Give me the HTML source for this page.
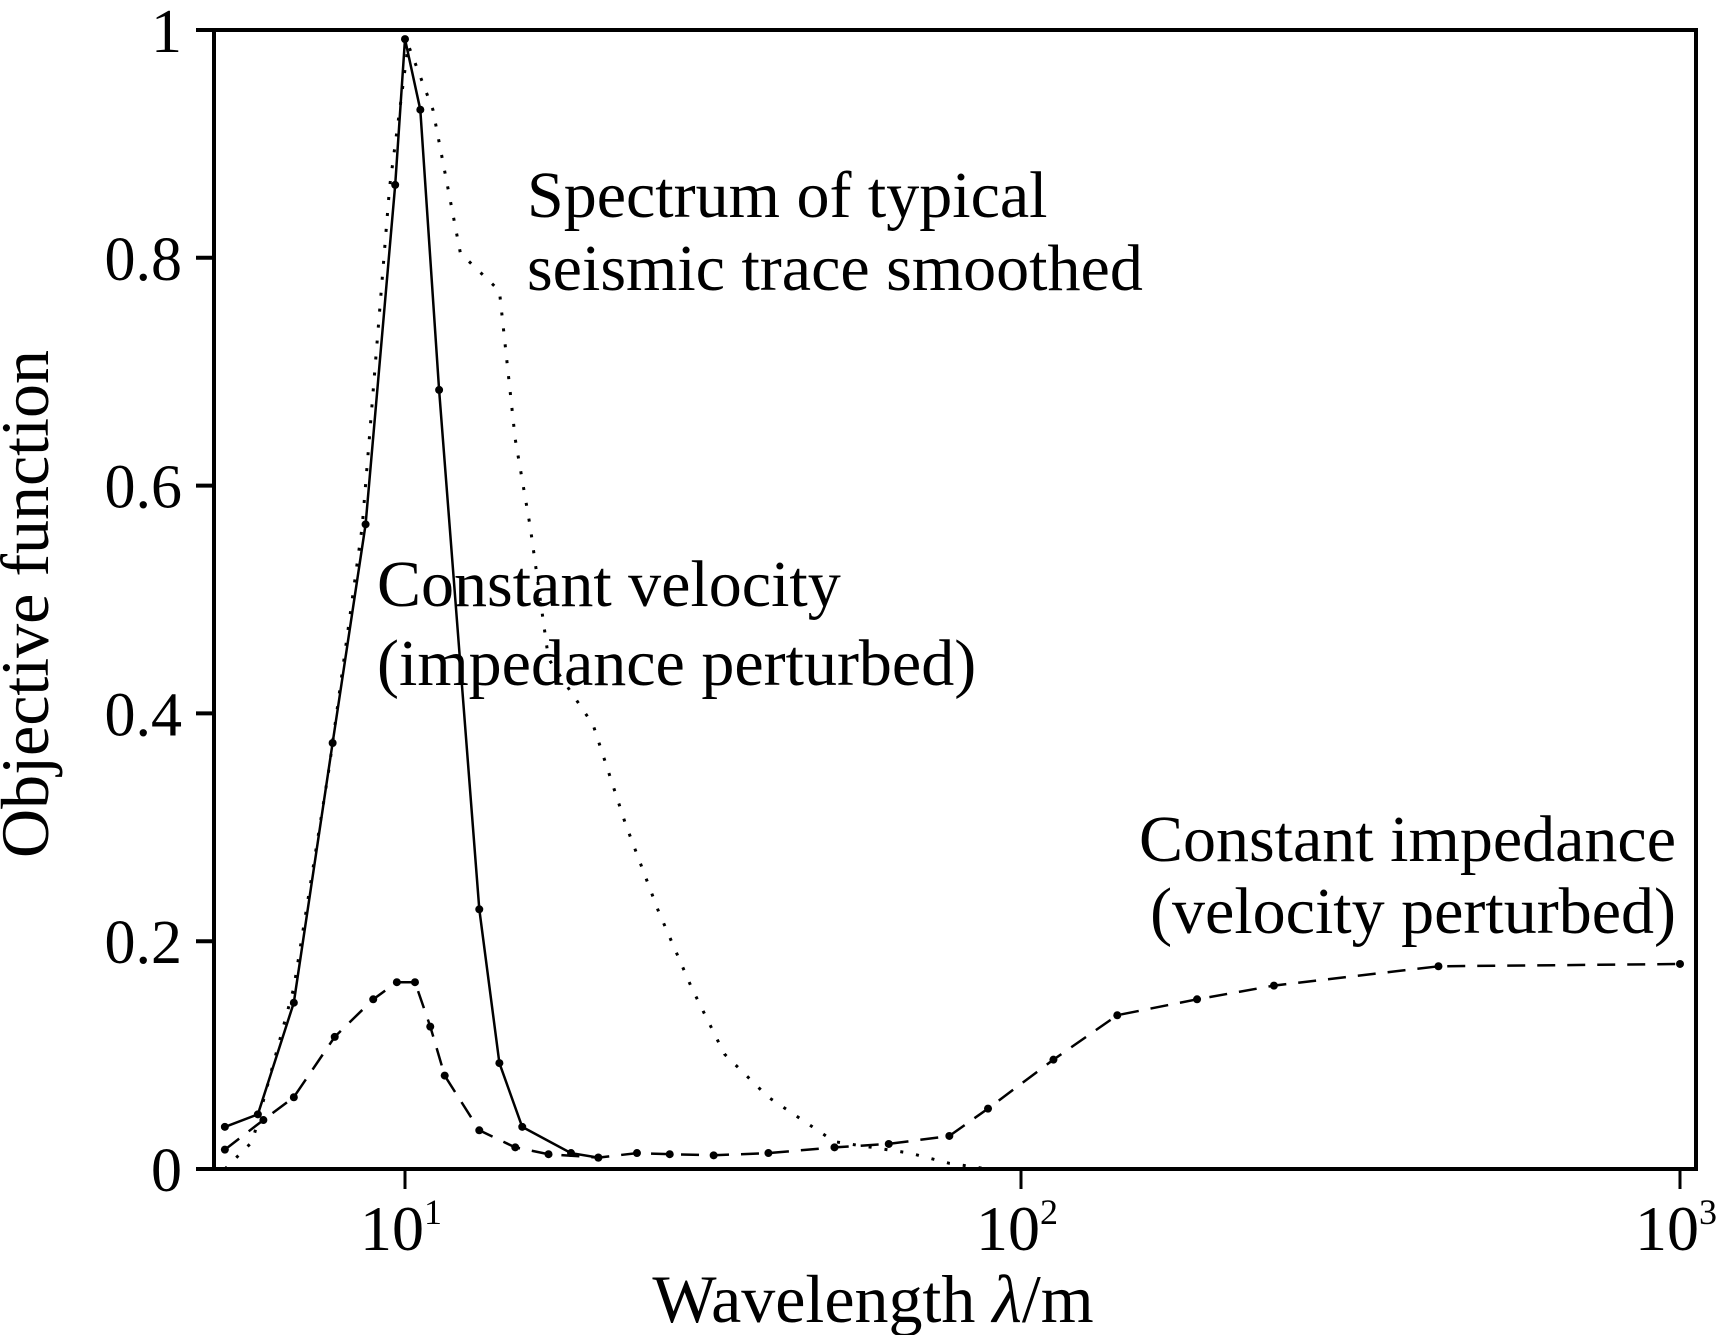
<!DOCTYPE html>
<html><head><meta charset="utf-8"><style>
body{margin:0;background:#fff}
svg{display:block}
text{font-family:"Liberation Serif",serif;fill:#000}
</style></head><body>
<svg width="1718" height="1335" viewBox="0 0 1718 1335">
<g id="g"></g>
</svg>
<script>
const solidX=[5.1,5.77,6.6,7.63,8.63,9.64,10,10.59,11.36,13.2,14.23,15.5,18.6,20.6];
const solidY=[0.037,0.048,0.146,0.374,0.566,0.864,0.992,0.93,0.684,0.228,0.093,0.037,0.014,0.01];
const dotX=[5.1,5.65,6.6,7.53,8.52,9.44,10.12,11.1,12.3,14.23,15.1,15.97,17.1,20.2,22.8,25.8,29.2,33,38.9,49.8,66,76.5,88.4];
const dotY=[0,0.024,0.159,0.352,0.564,0.862,0.987,0.93,0.804,0.771,0.641,0.564,0.448,0.39,0.303,0.226,0.159,0.101,0.063,0.024,0.014,0.005,0];
const dashX=[5.1,5.89,6.6,7.69,8.88,9.7,10.38,10.99,11.6,13.2,15.1,17.1,20.6,23.8,26.9,31.7,38.9,49.8,61,76.5,88.4,112,140,185,242,430,1000];
const dashY=[0.017,0.043,0.063,0.116,0.149,0.164,0.164,0.125,0.082,0.034,0.019,0.013,0.01,0.014,0.013,0.012,0.014,0.019,0.022,0.029,0.053,0.096,0.135,0.149,0.161,0.178,0.18];
const yTicks=[0,0.2,0.4,0.6,0.8,1];
const yTickLabels=["0","0.2","0.4","0.6","0.8","1"];
const xTicks=[10,100,1000];
const xTickExp=["1","2","3"];
const L=214,R=1696,T=30,B=1169;
function sx(v){const l=Math.log10(v);
  if(l<=2)return 405+(l-1)*616;
  return 1021+(l-2)*659;}
function sy(v){return B-v*(B-T);}
const g=document.getElementById('g');const NS="http://www.w3.org/2000/svg";
function mk(t,a,txt){const e=document.createElementNS(NS,t);for(const k in a)e.setAttribute(k,a[k]);if(txt!==undefined)e.textContent=txt;g.appendChild(e);return e;}
let e=mk('rect',{x:L,y:T,width:R-L,height:B-T,fill:'none',stroke:'#000','stroke-width':4});


yTicks.forEach((v,i)=>{
 let t=mk('line',{x1:L-18,x2:L,y1:sy(v),y2:sy(v),stroke:'#000','stroke-width':4});
 
 
 let lb=mk('text',{x:182,y:sy(v)+22,'font-size':62,'text-anchor':'end'},yTickLabels[i]);
 
 
});
xTicks.forEach((v,i)=>{
 let t=mk('line',{x1:sx(v),x2:sx(v),y1:B,y2:B+20,stroke:'#000','stroke-width':3});
 
 
 let lb=mk('text',{x:sx(v)-4,y:1250,'font-size':64,'text-anchor':'middle'});
 lb.innerHTML='10<tspan dy="-26" font-size="36">'+xTickExp[i]+'</tspan>';
 
 
});
function path(xs,ys){return xs.map((x,i)=>(i?'L':'M')+sx(x).toFixed(1)+' '+sy(ys[i]).toFixed(1)).join(' ');}
let p=mk('path',{d:path(dotX,dotY),fill:'none',stroke:'#000','stroke-width':3,'stroke-dasharray':'3 13'});


p=mk('path',{d:path(solidX,solidY),fill:'none',stroke:'#000','stroke-width':2.5});


p=mk('path',{d:path(dashX,dashY),fill:'none',stroke:'#000','stroke-width':2.5,'stroke-dasharray':'18 12'});


solidX.forEach((x,i)=>{let c=mk('circle',{cx:sx(x),cy:sy(solidY[i]),r:4,fill:'#000'});
 
 });
dashX.forEach((x,i)=>{let c=mk('circle',{cx:sx(x),cy:sy(dashY[i]),r:4,fill:'#000'});
 
 });
const labels=[["Spectrum of typical",527,217,'start','label-spectrum'],["seismic trace smoothed",527,290,'start','label-spectrum-2'],
["Constant velocity",377,606,'start','label-constant-velocity'],["(impedance perturbed)",377,685,'start','label-constant-velocity-2'],
["Constant impedance",1676,861,'end','label-constant-impedance'],["(velocity perturbed)",1676,933,'end','label-constant-impedance-2']];
labels.forEach(a=>{let t=mk('text',{x:a[1],y:a[2],'font-size':66,'text-anchor':a[3]},a[0]);
 
 });
let xt=mk('text',{x:873,y:1322,'font-size':68,'text-anchor':'middle'});
xt.innerHTML='Wavelength <tspan font-style="italic">λ</tspan>/m';


let yt=mk('text',{x:0,y:0,'font-size':68,'text-anchor':'middle',transform:'translate(48,604) rotate(-90)'},'Objective function');


</script>
</body></html>
